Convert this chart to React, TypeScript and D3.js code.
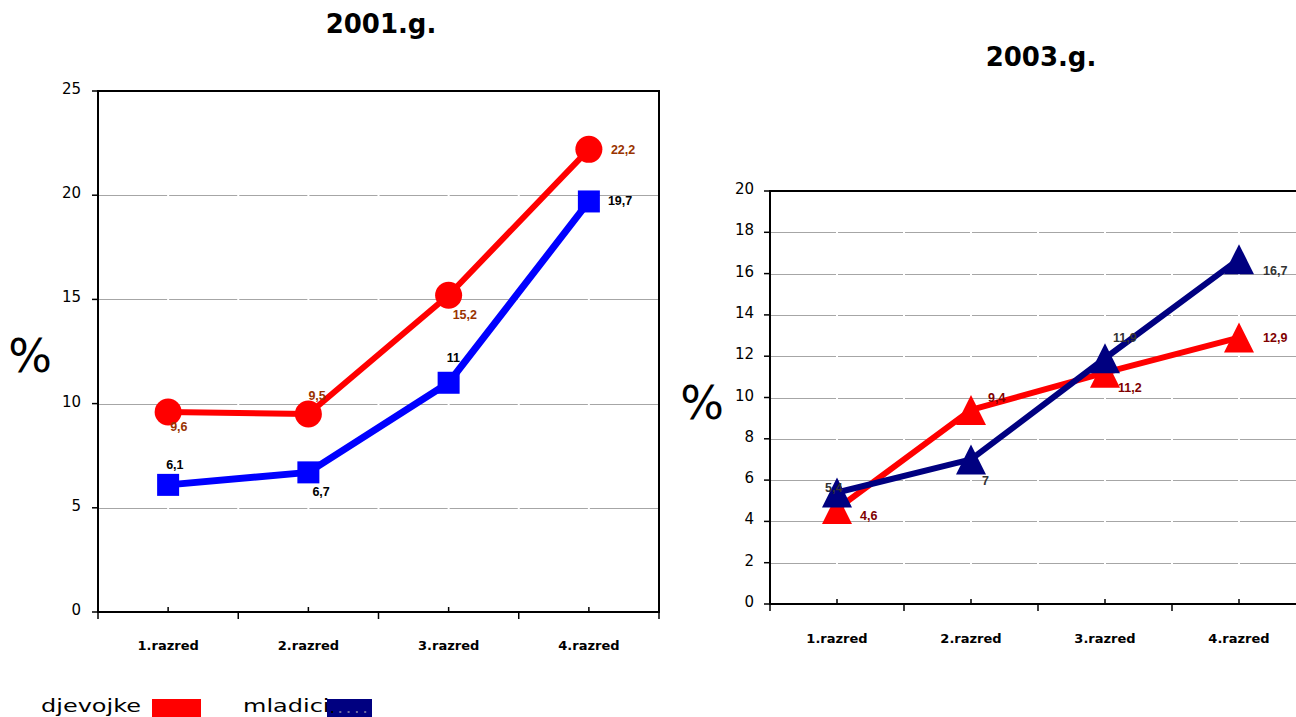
import React from 'react';
import * as d3 from 'd3';

const categories = ['1.razred', '2.razred', '3.razred', '4.razred'];
const girls2001 = [9.6, 9.5, 15.2, 22.2];
const boys2001 = [6.1, 6.7, 11, 19.7];
const girls2003 = [4.6, 9.4, 11.2, 12.9];
const boys2003 = [5.4, 7, 11.9, 16.7];
const ticks2001 = [0, 5, 10, 15, 20, 25];
const ticks2003 = [0, 2, 4, 6, 8, 10, 12, 14, 16, 18, 20];
const legendLabels = ['djevojke', 'mladici'];

const fmt = (v: number) => String(v).replace('.', ',');

type Series = {
  values: number[];
  color: string;
  width: number;
  marker: 'circle' | 'square' | 'triangle';
  labelColor: string;
  offsets: [number, number][];
};

type ChartProps = {
  x0: number; x1: number; yTop: number; yBottom: number; yMax: number;
  ticks: number[]; series: Series[]; title: string; titleX: number; titleY: number;
  pctX: number; pctY: number; rightBorder: boolean; tickLabelX: number; catLabelY: number;
};

function Chart(p: ChartProps) {
  const x = d3.scaleBand<string>().domain(categories).range([p.x0, p.x1]);
  const y = d3.scaleLinear().domain([0, p.yMax]).range([p.yBottom, p.yTop]);
  const cx = (c: string) => (x(c) as number) + x.bandwidth() / 2;
  const half = x.bandwidth() / 2;
  const halfPos = d3.range(0, categories.length * 2 + 1).map((i) => p.x0 + i * half);
  const line = d3.line<number>().x((_, i) => cx(categories[i])).y((v) => y(v));
  const font = 'DejaVu Sans, Verdana, sans-serif';

  const marker = (s: Series, v: number, i: number) => {
    const px = cx(categories[i]);
    const py = y(v);
    if (s.marker === 'circle') return <circle key={i} cx={px} cy={py} r={13.5} fill={s.color} />;
    if (s.marker === 'square') return <rect key={i} x={px - 11} y={py - 11} width={22} height={22} fill={s.color} />;
    const path = d3.path();
    path.moveTo(px, py - 15);
    path.lineTo(px + 15, py + 15);
    path.lineTo(px - 15, py + 15);
    path.closePath();
    return <path key={i} d={path.toString()} fill={s.color} />;
  };

  return (
    <g>
      <text x={p.titleX} y={p.titleY} textAnchor="middle" fontFamily={font} fontWeight="bold" fontSize={26}>{p.title}</text>
      <text x={p.pctX} y={p.pctY} textAnchor="middle" fontFamily={font} fontSize={46}>%</text>
      {p.ticks.filter((t) => t !== 0 && t !== p.yMax).map((t) => (
        <g key={'g' + t}>
          {halfPos.slice(0, -1).map((hx, i) => (
            <line key={i} x1={hx + 1} x2={halfPos[i + 1] - 1} y1={Math.round(y(t)) + 0.5} y2={Math.round(y(t)) + 0.5} stroke="#a6a6a6" strokeWidth={1} />
          ))}
        </g>
      ))}
      <line x1={p.x0} x2={p.x1 + 1} y1={p.yTop} y2={p.yTop} stroke="#000" strokeWidth={2} />
      {p.rightBorder && <line x1={p.x1} x2={p.x1} y1={p.yTop} y2={p.yBottom} stroke="#000" strokeWidth={2} />}
      <line x1={p.x0} x2={p.x0} y1={p.yTop - 1} y2={p.yBottom + 1} stroke="#000" strokeWidth={2} />
      <line x1={p.x0} x2={p.x1 + 1} y1={p.yBottom} y2={p.yBottom} stroke="#000" strokeWidth={2} />
      {p.ticks.map((t) => (
        <g key={'t' + t}>
          <line x1={p.x0 - 6} x2={p.x0} y1={y(t)} y2={y(t)} stroke="#000" strokeWidth={1.5} />
          <text x={p.tickLabelX} y={y(t) + 3} textAnchor="end" fontFamily={font} fontSize={15}>{t}</text>
        </g>
      ))}
      {halfPos.map((hx, i) => (
        i % 2 === 0
          ? <line key={'x' + i} x1={hx} x2={hx} y1={p.yBottom} y2={p.yBottom + 7} stroke="#000" strokeWidth={1.5} />
          : <line key={'x' + i} x1={hx} x2={hx} y1={p.yBottom} y2={p.yBottom - 5} stroke="#000" strokeWidth={1.5} />
      ))}
      {categories.map((c) => (
        <text key={c} x={cx(c)} y={p.catLabelY} textAnchor="middle" fontFamily={font} fontWeight="bold" fontSize={13}>{c}</text>
      ))}
      {p.series.map((s, si) => (
        <g key={'s' + si}>
          <path d={line(s.values) as string} fill="none" stroke={s.color} strokeWidth={s.width} strokeLinejoin="round" />
          {s.values.map((v, i) => marker(s, v, i))}
        </g>
      ))}
      {p.series.map((s, si) => (
        <g key={'l' + si}>
          {s.values.map((v, i) => (
            <text key={i} x={cx(categories[i]) + s.offsets[i][0]} y={y(v) + s.offsets[i][1]}
              fontFamily="Liberation Sans, Arial, sans-serif" fontWeight="bold" fontSize={12.5} fill={s.labelColor}>{fmt(v)}</text>
          ))}
        </g>
      ))}
    </g>
  );
}

export default function App() {
  const left: Series[] = [
    { values: girls2001, color: '#ff0000', width: 6, marker: 'circle', labelColor: '#993300',
      offsets: [[2, 19], [0, -14], [4, 24], [22, 5]] },
    { values: boys2001, color: '#0000ff', width: 7, marker: 'square', labelColor: '#000000',
      offsets: [[-2, -16], [4, 24], [-2, -21], [19, 4]] },
  ];
  const right: Series[] = [
    { values: girls2003, color: '#ff0000', width: 6, marker: 'triangle', labelColor: '#800000',
      offsets: [[23, 11], [17, -8], [13, 19], [24, 4]] },
    { values: boys2003, color: '#000080', width: 6, marker: 'triangle', labelColor: '#333333',
      offsets: [[-12, 0], [11, 26], [8, -16], [24, 16]] },
  ];
  const legFont = 'DejaVu Sans, Verdana, sans-serif';
  return (
    <svg width={1296} height={717} style={{ position: 'absolute', left: 0, top: 0, display: 'block', background: '#fff' }}>
      <rect width={1296} height={717} fill="#fff" />
      <Chart x0={98} x1={659} yTop={91} yBottom={612} yMax={25} ticks={ticks2001} series={left}
        title="2001.g." titleX={381} titleY={33} pctX={30} pctY={372} rightBorder={true} tickLabelX={81} catLabelY={650} />
      <Chart x0={770} x1={1306} yTop={191} yBottom={604} yMax={20} ticks={ticks2003} series={right}
        title="2003.g." titleX={1041} titleY={66} pctX={702} pctY={419} rightBorder={false} tickLabelX={754} catLabelY={643} />
      <g>
        <g transform="translate(41,712) scale(1,0.74)">
          <text x={0} y={0} fontFamily={legFont} fontSize={24}>{legendLabels[0]}</text>
        </g>
        <rect x={152} y={699} width={49} height={18} fill="#ff0000" />
        <g transform="translate(243,712) scale(1,0.74)">
          <text x={0} y={0} fontFamily={legFont} fontSize={24}>{legendLabels[1]}</text>
        </g>
        <rect x={327} y={699} width={45} height={18} fill="#000080" />
        {d3.range(5).map((i) => (
          <rect key={i} x={331 + i * 8.3} y={711} width={2} height={2} fill={i === 0 ? '#000' : '#6b6b9e'} />
        ))}
      </g>
    </svg>
  );
}
